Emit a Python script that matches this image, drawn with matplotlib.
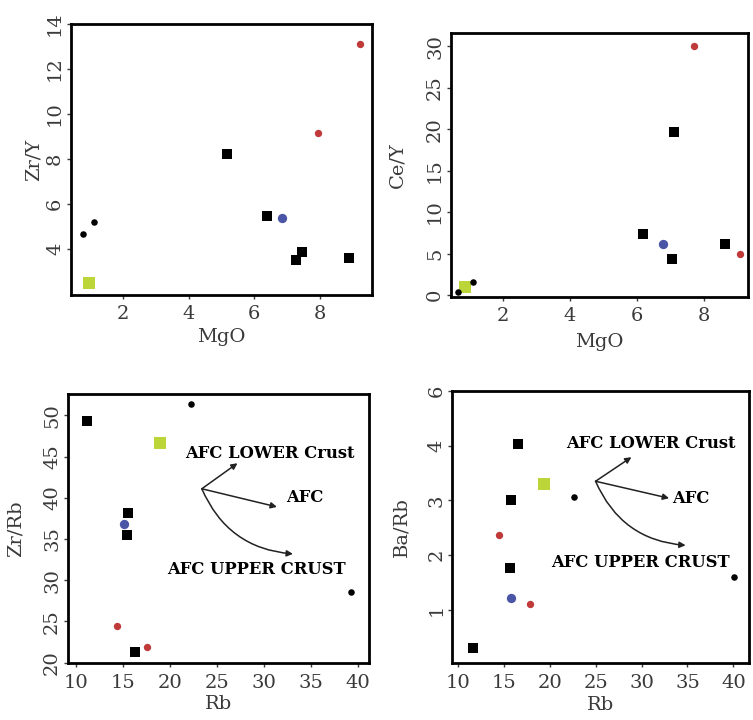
import matplotlib
matplotlib.use("Agg")
import matplotlib.pyplot as plt

plt.rcParams['font.family'] = ['DejaVu Serif']

# ---------------- data ----------------
# Panel 1: MgO vs Zr/Y
p1_sq_x = [5.16, 6.37, 7.45, 7.26, 8.88]
p1_sq_y = [8.22, 5.47, 3.87, 3.51, 3.60]
p1_red_x = [9.22, 7.94]
p1_red_y = [13.1, 9.16]
p1_blue_x = [6.83]
p1_blue_y = [5.38]
p1_dot_x = [0.78, 1.12]
p1_dot_y = [4.67, 5.20]
p1_yel_x = [0.96]
p1_yel_y = [2.49]

# Panel 2: MgO vs Ce/Y
p2_sq_x = [7.10, 6.17, 7.04, 8.62]
p2_sq_y = [19.7, 7.3, 4.3, 6.1]
p2_red_x = [7.71, 9.06]
p2_red_y = [30.0, 4.9]
p2_blue_x = [6.76]
p2_blue_y = [6.1]
p2_dot_x = [0.67, 1.11]
p2_dot_y = [0.4, 1.53]
p2_yel_x = [0.87]
p2_yel_y = [1.0]

# Panel 3: Rb vs Zr/Rb
p3_sq_x = [11.2, 15.5, 15.4, 16.3]
p3_sq_y = [49.3, 38.2, 35.5, 21.3]
p3_red_x = [14.4, 17.6]
p3_red_y = [24.5, 21.9]
p3_blue_x = [15.1]
p3_blue_y = [36.8]
p3_dot_x = [22.2, 39.3]
p3_dot_y = [51.4, 28.6]
p3_yel_x = [19.0]
p3_yel_y = [46.7]

# Panel 4: Rb vs Ba/Rb
p4_sq_x = [16.6, 15.8, 15.7, 11.7]
p4_sq_y = [4.03, 3.00, 1.77, 0.31]
p4_red_x = [14.5, 17.9]
p4_red_y = [2.36, 1.10]
p4_blue_x = [15.8]
p4_blue_y = [1.21]
p4_dot_x = [22.6, 40.1]
p4_dot_y = [3.06, 1.61]
p4_yel_x = [19.4]
p4_yel_y = [3.30]

# Tick labels
mgo_ticks = [2, 4, 6, 8]
p1_yticks = [4, 6, 8, 10, 12, 14]
p2_yticks = [0, 5, 10, 15, 20, 25, 30]
rb_ticks = [10, 15, 20, 25, 30, 35, 40]
p3_yticks = [20, 25, 30, 35, 40, 45, 50]
p4_yticks = [1, 2, 3, 4, 5]
p4_yticklabels = ['1', '2', '3', '4', '6']

# AFC annotations (origin, lower end, afc end, upper end)
p3_origin = (23.4, 41.1)
p3_lower_end = (27.2, 44.2)
p3_afc_end = (31.4, 38.9)
p3_upper_end = (33.1, 33.2)
p4_origin = (25.0, 3.35)
p4_lower_end = (28.9, 3.79)
p4_afc_end = (33.0, 3.04)
p4_upper_end = (34.8, 2.18)

# ---------------- style ----------------
C_RED = '#c03a3a'
C_BLUE = '#4a55a5'
C_YEL = '#bcd63a'
C_TXT = '#3a3a3a'
FS = 14

fig = plt.figure(figsize=(7.53, 7.2), dpi=100)

def base(ax, xpad):
    for s in ax.spines.values():
        s.set_linewidth(2.0)
        s.set_color('black')
    ax.tick_params(axis='both', direction='out', length=3, width=1,
                   labelsize=FS, colors=C_TXT)
    ax.tick_params(axis='x', pad=xpad)
    ax.tick_params(axis='y', pad=2, labelrotation=90)
    for lab in ax.get_yticklabels():
        lab.set_va('center')

def pts(ax, sqx, sqy, rx, ry, bx, by, dx, dy, yx, yy):
    ax.scatter(yx, yy, marker='s', s=65, color=C_YEL, zorder=3, linewidths=0)
    ax.scatter(sqx, sqy, marker='s', s=52, color='black', zorder=4, linewidths=0)
    ax.scatter(rx, ry, marker='o', s=28, color=C_RED, zorder=4, linewidths=0)
    ax.scatter(bx, by, marker='o', s=45, color=C_BLUE, zorder=4, linewidths=0)
    ax.scatter(dx, dy, marker='o', s=22, color='black', zorder=5, linewidths=0)

def afc(ax, origin, lower_end, afc_end, upper_end, t_lower, t_afc, t_upper, afc_ha):
    ap = dict(arrowstyle='-|>', lw=1.1, color='#222222', mutation_scale=9,
              shrinkA=0, shrinkB=0)
    ax.annotate('', xy=lower_end, xytext=origin, arrowprops=ap)
    ax.annotate('', xy=afc_end, xytext=origin, arrowprops=ap)
    ap2 = dict(ap, connectionstyle='arc3,rad=0.3')
    ax.annotate('', xy=upper_end, xytext=origin, arrowprops=ap2)
    fs = 11.8
    ax.text(t_lower[0], t_lower[1], 'AFC LOWER Crust', ha='center', va='center',
            fontsize=fs, fontweight='bold')
    ax.text(t_afc[0], t_afc[1], 'AFC', ha=afc_ha, va='center',
            fontsize=fs, fontweight='bold')
    ax.text(t_upper[0], t_upper[1], 'AFC UPPER CRUST', ha='center', va='center',
            fontsize=fs, fontweight='bold')

# Panel 1
ax1 = fig.add_axes([0.0943, 0.5903, 0.3997, 0.3764])
pts(ax1, p1_sq_x, p1_sq_y, p1_red_x, p1_red_y, p1_blue_x, p1_blue_y,
    p1_dot_x, p1_dot_y, p1_yel_x, p1_yel_y)
ax1.set_xlim(0.42, 9.58)
ax1.set_ylim(1.95, 14.0)
ax1.set_xticks(mgo_ticks)
ax1.set_yticks(p1_yticks)
ax1.set_xlabel('MgO', fontsize=FS, color=C_TXT)
ax1.xaxis.set_label_coords(0.5, -0.122)
ax1.set_ylabel('Zr/Y', fontsize=FS, color=C_TXT)
ax1.yaxis.set_label_coords(-0.095, 0.5)
base(ax1, 4)

# Panel 2
ax2 = fig.add_axes([0.599, 0.5875, 0.3944, 0.3667])
pts(ax2, p2_sq_x, p2_sq_y, p2_red_x, p2_red_y, p2_blue_x, p2_blue_y,
    p2_dot_x, p2_dot_y, p2_yel_x, p2_yel_y)
ax2.set_xlim(0.45, 9.31)
ax2.set_ylim(-0.24, 31.6)
ax2.set_xticks(mgo_ticks)
ax2.set_yticks(p2_yticks)
ax2.set_xlabel('MgO', fontsize=FS, color=C_TXT)
ax2.xaxis.set_label_coords(0.5, -0.136)
ax2.set_ylabel('Ce/Y', fontsize=FS, color=C_TXT)
ax2.yaxis.set_label_coords(-0.15, 0.5)
base(ax2, 4)

# Panel 3
ax3 = fig.add_axes([0.0903, 0.0796, 0.3997, 0.3732])
pts(ax3, p3_sq_x, p3_sq_y, p3_red_x, p3_red_y, p3_blue_x, p3_blue_y,
    p3_dot_x, p3_dot_y, p3_yel_x, p3_yel_y)
ax3.set_xlim(9.15, 41.2)
ax3.set_ylim(20.0, 52.6)
ax3.set_xticks(rb_ticks)
ax3.set_yticks(p3_yticks)
ax3.set_xlabel('Rb', fontsize=FS, color=C_TXT)
ax3.xaxis.set_label_coords(0.5, -0.122)
ax3.set_ylabel('Zr/Rb', fontsize=FS, color=C_TXT)
ax3.yaxis.set_label_coords(-0.145, 0.5)
base(ax3, 5)
afc(ax3, p3_origin, p3_lower_end, p3_afc_end, p3_upper_end,
    (30.7, 45.4), (34.4, 40.0), (29.2, 31.3), 'center')

# Panel 4
ax4 = fig.add_axes([0.6007, 0.0792, 0.394, 0.3778])
pts(ax4, p4_sq_x, p4_sq_y, p4_red_x, p4_red_y, p4_blue_x, p4_blue_y,
    p4_dot_x, p4_dot_y, p4_yel_x, p4_yel_y)
ax4.set_xlim(9.41, 41.7)
ax4.set_ylim(0.03, 5.0)
ax4.set_xticks(rb_ticks)
ax4.set_yticks(p4_yticks)
ax4.set_yticklabels(p4_yticklabels)
ax4.set_xlabel('Rb', fontsize=FS, color=C_TXT)
ax4.xaxis.set_label_coords(0.5, -0.12)
ax4.set_ylabel('Ba/Rb', fontsize=FS, color=C_TXT)
ax4.yaxis.set_label_coords(-0.14, 0.5)
base(ax4, 5)
afc(ax4, p4_origin, p4_lower_end, p4_afc_end, p4_upper_end,
    (31.0, 4.04), (33.3, 3.04), (29.9, 1.87), 'left')

fig.savefig('out.png', dpi=100, facecolor='white')
